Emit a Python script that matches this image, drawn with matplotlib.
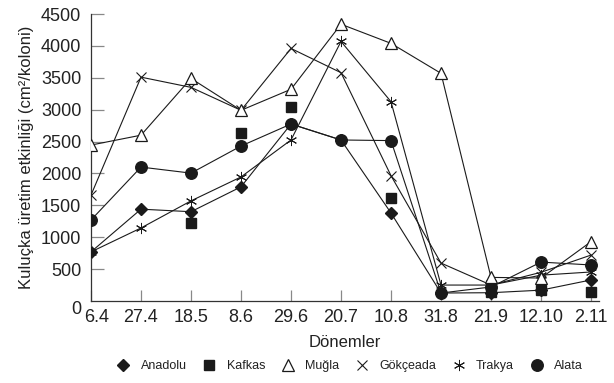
import numpy as np
import matplotlib
matplotlib.use("Agg")
import matplotlib.pyplot as plt
from matplotlib.lines import Line2D
from matplotlib.transforms import ScaledTranslation

plt.rcParams['font.family'] = ['Liberation Sans', 'DejaVu Sans']

periods = ["6.4", "27.4", "18.5", "8.6", "29.6", "20.7", "10.8", "31.8", "21.9", "12.10", "2.11"]
nan = np.nan
anadolu   = [770, 1440, 1400, 1790, 2775, 2525, 1380, 125, 130, 170, 330]
kafkas    = [nan, nan, 1220, 2630, 3040, nan, 1610, nan, 140, 170, 140]
mugla     = [2445, 2600, 3490, 2990, 3320, 4340, 4040, 3570, 370, 360, 930]
gokceada  = [1660, 3510, 3350, 2990, 3960, 3580, 1965, 595, 250, 450, 720]
trakya    = [770, 1145, 1570, 1945, 2525, 4070, 3125, 250, 250, 405, 455]
alata     = [1270, 2100, 2005, 2430, 2775, 2525, 2515, 125, 220, 610, 565]

series_names = ["Anadolu", "Kafkas", "Muğla", "Gökçeada", "Trakya", "Alata"]
yticks = [500, 1000, 1500, 2000, 2500, 3000, 3500, 4000, 4500]

fig = plt.figure(figsize=(6.14, 3.83), dpi=100)
ax = fig.add_axes([91/614, 0.2141, 507.5/614, 0.7493])

x = np.arange(len(periods))
c = '#1a1a1a'
lw = 0.8

styles = {
    "Anadolu":  dict(marker='D', ms=6.3, mfc=c, mec=c),
    "Kafkas":   dict(marker='s', ms=7.5, mfc=c, mec=c),
    "Muğla":    dict(marker='^', ms=9, mfc='white', mec=c, mew=0.9),
    "Gökçeada": dict(marker='x', ms=7, mfc=c, mec=c, mew=0.8),
    "Trakya":   dict(marker=(6, 2, 0), ms=8, mfc=c, mec=c, mew=0.7),
    "Alata":    dict(marker='o', ms=8.3, mfc=c, mec=c),
}

# Anadolu (drawn first, partly hidden)
ax.plot(x, anadolu, color=c, lw=lw, zorder=2, **styles["Anadolu"])
# Kafkas: markers only
ax.plot(x, kafkas, color=c, lw=0, linestyle='none', zorder=4, **styles["Kafkas"])
ax.plot(x, gokceada, color=c, lw=lw, zorder=3, **styles["Gökçeada"])
ax.plot(x, trakya, color=c, lw=lw, zorder=3, **styles["Trakya"])
ax.plot(x, alata, color=c, lw=lw, zorder=3, **styles["Alata"])
ax.plot(x, mugla, color=c, lw=lw, zorder=5, **styles["Muğla"])

ax.set_xlim(0, 10.15)
ax.set_ylim(0, 4500)
ax.set_yticks(yticks)
ax.set_yticklabels([str(v) for v in yticks])
ax.set_xticks(x)
ax.set_xticklabels(periods)

for s in ['top', 'right']:
    ax.spines[s].set_visible(False)
for s in ['left', 'bottom']:
    ax.spines[s].set_color('#333333')
    ax.spines[s].set_linewidth(0.9)

ax.tick_params(axis='y', direction='in', length=9, width=0.9, color='#888888',
               labelsize=13, pad=7, labelcolor='#222222')
ax.tick_params(axis='x', direction='in', length=8, width=0.9, color='#888888',
               labelsize=13, pad=6, labelcolor='#222222')

lbl0 = ax.get_xticklabels()[0]
lbl0.set_transform(lbl0.get_transform() + ScaledTranslation(6/100, 0, fig.dpi_scale_trans))

ax.text(-0.028, -0.028, "0", transform=ax.transAxes, ha='center', va='center',
        fontsize=13, color='#222222')

ax.set_xlabel("Dönemler", fontsize=12, labelpad=6, color='#222222')
ax.set_ylabel("Kuluçka üretim etkinliği (cm²/koloni)", fontsize=12, labelpad=5, color='#222222')

handles = []
for name in series_names:
    st = dict(styles[name])
    handles.append(Line2D([], [], color=c, linestyle='none', **st))
fig.legend(handles, series_names, loc='center', bbox_to_anchor=(350/614, 1 - 366/383),
           ncol=6, frameon=False, fontsize=9, handlelength=1.0, handletextpad=0.9,
           columnspacing=1.3, borderaxespad=0, labelcolor='#222222')

fig.savefig("out.png", dpi=100)
